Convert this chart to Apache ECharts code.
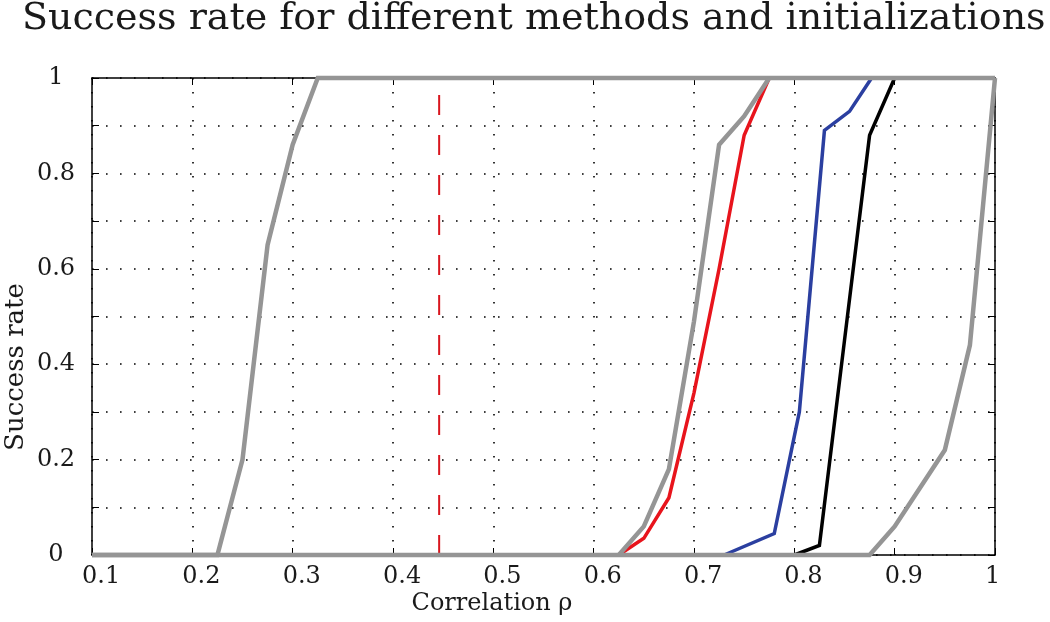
<!DOCTYPE html>
<html>
<head>
<meta charset="utf-8">
<script src="https://cdn.jsdelivr.net/npm/echarts@6/dist/echarts.min.js"></script>
<style>
html,body{margin:0;padding:0;background:#fff;}
#chart{width:1050px;height:622px;}
</style>
</head>
<body>
<div id="chart"></div>
<script>
// ---- data ----
const xTickLabels = ['0.1','0.2','0.3','0.4','0.5','0.6','0.7','0.8','0.9','1'];
const yTickLabels = ['0','0.2','0.4','0.6','0.8','1'];

const grayLeft  = [[0.1,0],[0.225,0],[0.25,0.2],[0.275,0.65],[0.3,0.86],[0.325,1],[1.0,1]];
const grayMid   = [[0.625,0],[0.65,0.06],[0.675,0.18],[0.7,0.49],[0.725,0.86],[0.75,0.92],[0.775,1]];
const grayRight = [[0.1,0],[0.875,0],[0.9,0.06],[0.95,0.22],[0.975,0.44],[1.0,1]];
const redCurve  = [[0.625,0],[0.65,0.035],[0.675,0.12],[0.7,0.34],[0.725,0.6],[0.75,0.88],[0.775,1]];
const blueCurve = [[0.73,0],[0.78,0.045],[0.805,0.3],[0.83,0.89],[0.855,0.93],[0.877,1]];
const blackCurve= [[0.8,0],[0.825,0.02],[0.85,0.45],[0.875,0.88],[0.9,1]];
const thresholdRho = 0.446;
const thresholdLine = [[thresholdRho,0],[thresholdRho,1]];

const titleText = 'Success rate for different methods and initializations';
const xName = 'Correlation \u03c1';
const yName = 'Success rate';

// ---- chart ----
const FONT = '"DejaVu Serif", serif';
const TXT = '#1a1a1a';
const GRAY = '#959595';

function xLabel(v){ const i = Math.round(v*10) - 1; return xTickLabels[i] || ''; }
function yLabel(v){ const n = Math.round(v*10); return n % 2 === 0 ? (yTickLabels[n/2] || '') : ''; }

const dotted = { color:'#000', width:1.6, type:[1.6,12.4] };

function line(data, color, width, z){
  return { type:'line', data:data, symbol:'none', clip:false, z:z,
    lineStyle:{ color:color, width:width, join:'miter' }, animation:false };
}

const chart = echarts.init(document.getElementById('chart'), null, {renderer:'canvas'});
chart.setOption({
  animation:false,
  backgroundColor:'#fff',
  title:{ text:titleText, left:17, top:-5,
    textStyle:{ fontFamily:FONT, fontSize:38, fontWeight:'normal', color:TXT } },
  grid:{ left:92, right:55, top:78, bottom:67, containLabel:false },
  xAxis:[{
    type:'value', min:0.1, max:1.0, interval:0.1, position:'bottom',
    axisLine:{ show:true, onZero:false, lineStyle:{ color:'#000', width:1.5 } },
    axisTick:{ show:true, inside:true, length:7, lineStyle:{ color:'#000', width:1 } },
    axisLabel:{ formatter:xLabel, align:'left', padding:[0,0,0,-10], margin:10,
      fontFamily:FONT, fontSize:24, color:TXT },
    splitLine:{ show:true, lineStyle:dotted }
  },{
    type:'value', min:0.1, max:1.0, interval:0.1, position:'top',
    axisLine:{ show:true, onZero:false, lineStyle:{ color:'#000', width:1.5 } },
    axisTick:{ show:true, inside:true, length:7, lineStyle:{ color:'#000', width:1 } },
    axisLabel:{ show:false }, splitLine:{ show:false }
  }],
  yAxis:[{
    type:'value', min:0, max:1, interval:0.1, position:'left',
    axisLine:{ show:true, onZero:false, lineStyle:{ color:'#000', width:1.5 } },
    axisTick:{ show:true, inside:true, length:7, lineStyle:{ color:'#000', width:1 } },
    axisLabel:{ formatter:yLabel, align:'center', margin:36,
      fontFamily:FONT, fontSize:24, color:TXT },
    splitLine:{ show:true, lineStyle:dotted }
  },{
    type:'value', min:0, max:1, interval:0.1, position:'right',
    axisLine:{ show:true, onZero:false, lineStyle:{ color:'#000', width:1.5 } },
    axisTick:{ show:true, inside:true, length:7, lineStyle:{ color:'#000', width:1 } },
    axisLabel:{ show:false }, splitLine:{ show:false }
  }],
  series:[
    { type:'line', data:thresholdLine, symbol:'none', clip:false, z:3,
      lineStyle:{ color:'#d9161e', width:2, type:[20,20] }, animation:false },
    line(redCurve, '#e8141c', 3.5, 4),
    line(blueCurve, '#2b3fa0', 3.5, 4),
    line(blackCurve, '#000000', 3.5, 4),
    line(grayLeft, GRAY, 4.5, 5),
    line(grayMid, GRAY, 4.5, 5),
    line(grayRight, GRAY, 4.5, 5)
  ],
  graphic:[
    { type:'text', x:492, y:604, z:10,
      style:{ text:xName, font:'24px '+FONT, fill:TXT, align:'center', verticalAlign:'middle',
              textAlign:'center', textVerticalAlign:'middle' } },
    { type:'text', x:16, y:367, rotation:Math.PI/2, z:10,
      style:{ text:yName, font:'26px '+FONT, fill:TXT, align:'center', verticalAlign:'middle',
              textAlign:'center', textVerticalAlign:'middle' } }
  ]
});
</script>
</body>
</html>
